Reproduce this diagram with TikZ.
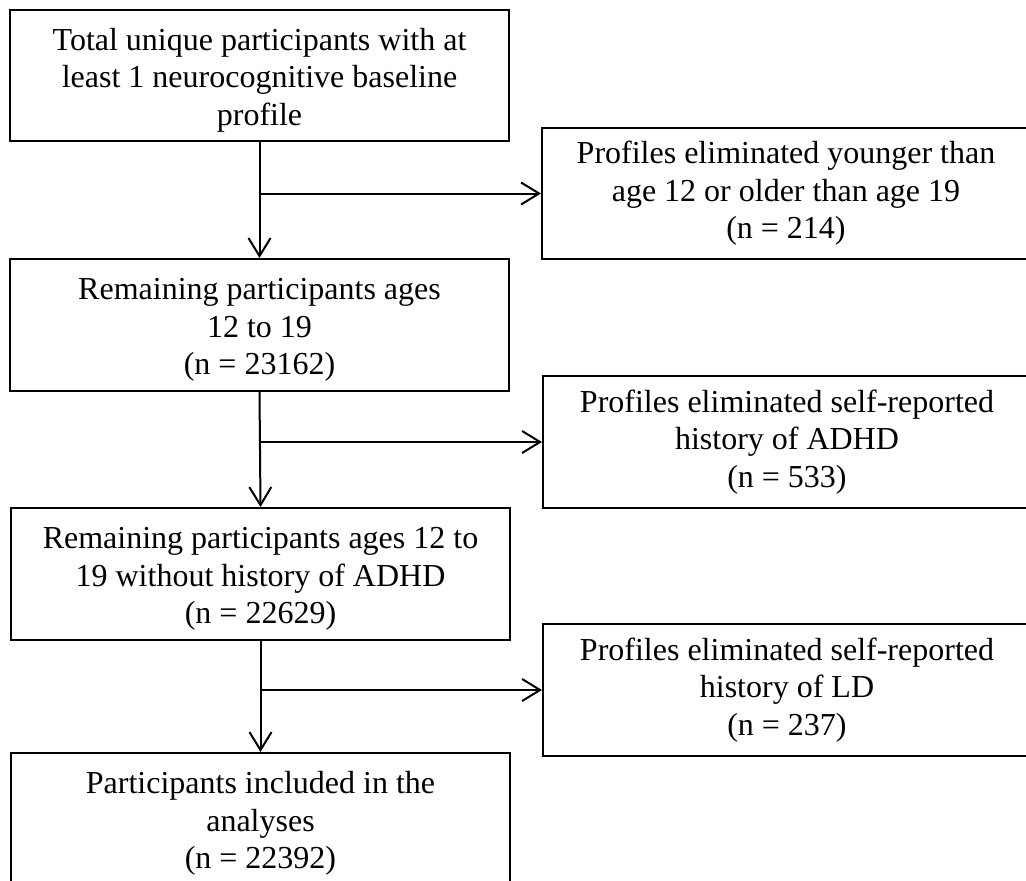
\documentclass[tikz,border=0pt]{standalone}
\usepackage{fontspec}
\setmainfont{Liberation Serif}
\usetikzlibrary{arrows.meta}
\newcommand{\lboxstrut}{\rule{0pt}{31pt}}
\begin{document}
\begin{tikzpicture}[x=1pt,y=-1pt,
  box/.style={draw, line width=2pt, anchor=north west, inner sep=0pt, align=center,
    font=\fontsize{32}{37.5}\selectfont},
  lbox/.style={box, minimum width=499pt, minimum height=132pt},
  rbox/.style={box, minimum width=488pt, minimum height=131pt},
  arr/.style={line width=2pt, -{Straight Barb[length=18pt,width=22pt,line width=2pt]}}]
\useasboundingbox (0,0) rectangle (1026,881);
\clip (0,0) rectangle (1026,881);
\node[lbox, minimum height=131pt] (b1) at (9,9) {\lboxstrut Total unique participants with at\\least 1 neurocognitive baseline\\profile};
\node[lbox] (b2) at (9,258) {\lboxstrut Remaining participants ages\\12 to 19\\(n = 23162)};
\node[lbox] (b3) at (10,507) {\lboxstrut Remaining participants ages 12 to\\19 without history of ADHD\\(n = 22629)};
\node[lbox] (b4) at (10,752) {\lboxstrut Participants included in the\\analyses\\(n = 22392)};
\node[rbox] (r1) at (541,127) {Profiles eliminated younger than\\age 12 or older than age 19\\(n = 214)};
\node[rbox, minimum height=132pt] (r2) at (542,375) {Profiles eliminated self-reported\\history of ADHD\\(n = 533)};
\node[rbox, minimum height=132pt] (r3) at (542,623) {Profiles eliminated self-reported\\history of LD\\(n = 237)};
\draw[arr] (b1.south) -- (b2.north);
\draw[arr] (b1.south |- r1.west) -- (r1.west);
\draw[arr] (b2.south) -- (b3.north);
\draw[arr] (b2.south |- r2.west) -- (r2.west);
\draw[arr] (b3.south) -- (b4.north);
\draw[arr] (b3.south |- r3.west) -- (r3.west);
\end{tikzpicture}
\end{document}
